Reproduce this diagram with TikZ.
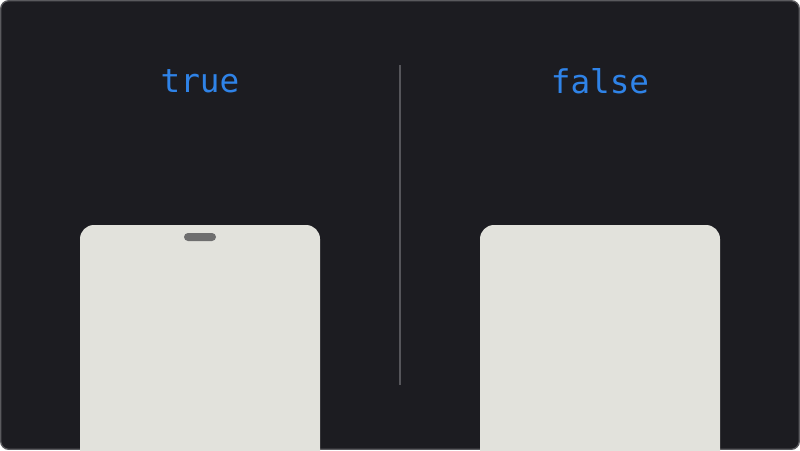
\documentclass[tikz,border=0pt]{standalone}
\usepackage{fontspec}
\setmonofont{DejaVu Sans Mono}
\usetikzlibrary{positioning}

\definecolor{bgdark}{HTML}{1C1C21}
\definecolor{frameline}{HTML}{5A5A5E}
\definecolor{sheetfill}{HTML}{E2E2DC}
\definecolor{labelblue}{HTML}{2F83E8}
\definecolor{grabgray}{HTML}{6E6E6E}
\definecolor{divline}{HTML}{55555A}

\begin{document}
\begin{tikzpicture}[x=0.75pt,y=-0.75pt]

            \tikzstyle{caption}=[text=labelblue,font=\ttfamily\fontsize{24.5}{28}\selectfont,inner sep=0pt]
            \tikzstyle{sheet}=[fill=sheetfill,rounded corners=10.5pt]
            \tikzstyle{grabber}=[fill=grabgray,rounded corners=3pt,minimum width=24pt,minimum height=6pt,inner sep=0pt]

            \useasboundingbox (0,0) rectangle (800,450);
            \draw[fill=bgdark,draw=frameline,line width=1pt,rounded corners=6pt] (0.7,0.7) rectangle (799.3,449.3);

            % left and right captions
            \node[caption] (truelbl)  at (200,81) {true};
            \node[caption] (falselbl) at (600,81) {false};

            % divider
            \coordinate (divtop) at (400,65);
            \coordinate (divbot) at (400,385);
            \draw[divline,line width=1pt] (divtop) -- (divbot);

            % sheets, bottom edge runs off the page
            \fill[sheet] (80,480) rectangle (320,225);
            \fill[sheet] (480,480) rectangle (720,225);
            \node[grabber] (handle) at (200,237) {};
        \end{tikzpicture}
\end{document}
